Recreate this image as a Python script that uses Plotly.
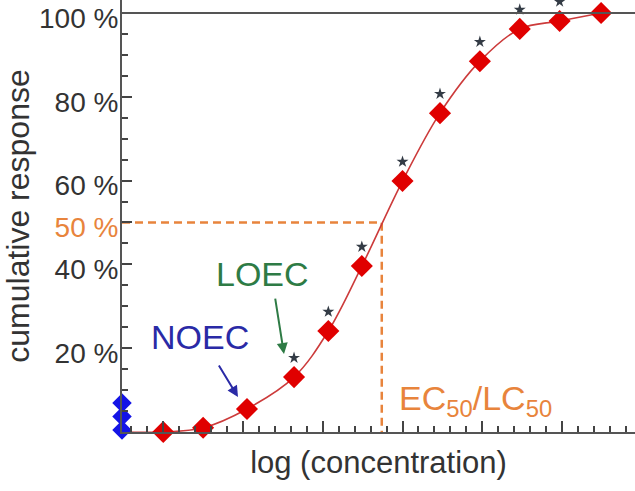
import plotly.graph_objects as go

# ---- data ----
log_conc = [0.0, 0.5, 1.05, 1.64, 2.07, 2.49, 3.0, 3.47, 3.97, 4.47, 4.97, 5.49]
response = [0.0, 1.0, 5.5, 13.1, 24.1, 39.6, 59.9, 76.1, 88.5, 96.2, 98.1, 100.0]
significant = [False, False, False, True, True, True, True, True, True, True, True, True]
control_response = [0.5, 3.7, 6.9]
ec50 = 2.74
y_tickvals = [20, 40, 50, 60, 80, 100]
y_ticktext = ["20 %", "40 %", "<span style='color:#E8843C'>50 %</span>", "60 %", "80 %", "100 %"]

# ---- style ----
X_RANGE = [-0.517, 5.915]
Y_RANGE = [0, 103.1]
ORANGE = "#E8843C"
FONT = "Liberation Sans, Arial, sans-serif"
STAR_OFFSET = 4.6

fig = go.Figure()

# dashed EC50 guide lines
fig.add_trace(go.Scatter(x=[X_RANGE[0], ec50, ec50], y=[50, 50, 0], mode="lines",
                         line=dict(color=ORANGE, width=2.5, dash="8px,5px"),
                         hoverinfo="skip", showlegend=False))

# fitted curve
fig.add_trace(go.Scatter(x=[X_RANGE[0]] + log_conc, y=[0] + response, mode="lines",
                         line=dict(color="#CC3B3B", width=1.6, shape="spline", smoothing=1.0),
                         showlegend=False, cliponaxis=False))

# data diamonds
fig.add_trace(go.Scatter(x=log_conc, y=response, mode="markers",
                         marker=dict(symbol="diamond", size=17, color="#E00000",
                                     line=dict(width=0)),
                         showlegend=False, cliponaxis=False))

# significance stars
sx = [x for x, s in zip(log_conc, significant) if s]
sy = [y + STAR_OFFSET for y, s in zip(response, significant) if s]
fig.add_trace(go.Scatter(x=sx, y=sy, mode="markers",
                         marker=dict(symbol="star", size=9, color="#333B45", line=dict(width=0)),
                         showlegend=False, cliponaxis=False))

# control diamonds on the axis
fig.add_trace(go.Scatter(x=[X_RANGE[0]] * len(control_response), y=control_response, mode="markers",
                         marker=dict(symbol="diamond", size=15, color="#1414E6", line=dict(width=0)),
                         showlegend=False, cliponaxis=False))

annotations = [
    dict(x=0.461, y=22.7, text="NOEC", showarrow=False,
         font=dict(family=FONT, size=34, color="#2A2AA6"), xanchor="center", yanchor="middle"),
    dict(x=1.25, y=37.7, text="LOEC", showarrow=False,
         font=dict(family=FONT, size=34, color="#2E7B45"), xanchor="center", yanchor="middle"),
    dict(x=2.93, y=7.6, text="EC<sub>50</sub>/LC<sub>50</sub>", showarrow=False,
         font=dict(family=FONT, size=34, color=ORANGE), xanchor="left", yanchor="middle"),
    dict(x=0.937, y=8.35, ax=-20, ay=-33, text="", showarrow=True, arrowhead=2,
         arrowsize=1.1, arrowwidth=2, arrowcolor="#2A2AA6"),
    dict(x=1.514, y=18.6, ax=-9, ay=-57, text="", showarrow=True, arrowhead=2,
         arrowsize=1.1, arrowwidth=2, arrowcolor="#2E7B45"),
]

shapes = [dict(type="line", xref="paper", x0=0, x1=1, yref="y", y0=100, y1=100,
               line=dict(color="#555", width=2))]

fig.update_layout(
    width=635, height=491,
    margin=dict(l=122, r=0, t=0, b=59, autoexpand=False),
    paper_bgcolor="white", plot_bgcolor="white",
    font=dict(family=FONT, color="#333333"),
    annotations=annotations, shapes=shapes,
    xaxis=dict(range=X_RANGE, showgrid=False, zeroline=False, showticklabels=False,
               automargin=False,
               ticks="inside", tick0=0, dtick=1, ticklen=11, tickwidth=1.5, tickcolor="#444",
               minor=dict(ticks="inside", dtick=0.2, ticklen=6, tickwidth=1.5, tickcolor="#444"),
               showline=True, linecolor="#555", linewidth=2,
               title=dict(text="log (concentration)", font=dict(size=31, color="#333"), standoff=18)),
    yaxis=dict(range=Y_RANGE, showgrid=False, zeroline=False, automargin=False,
               tickvals=y_tickvals, ticktext=y_ticktext, tickfont=dict(size=28, color="#333"),
               ticklabeloverflow="allow", ticklabelshift=5, ticklabelstandoff=-4,
               ticks="inside", ticklen=10, tickwidth=1.5, tickcolor="#444",
               minor=dict(ticks="inside", dtick=5, tick0=0, ticklen=6, tickwidth=1.5, tickcolor="#444"),
               showline=True, linecolor="#555", linewidth=2,
               title=dict(text="cumulative response", font=dict(size=32, color="#333"), standoff=0)),
)

fig.write_html("out.html")
